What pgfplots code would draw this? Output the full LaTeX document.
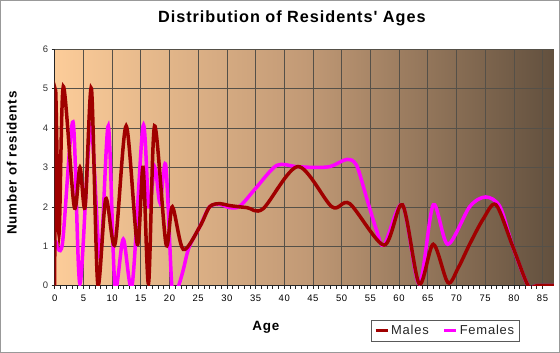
\documentclass[border=0pt]{standalone}
\usepackage{fontspec}
\setmainfont{Liberation Sans}
\newfontfamily\lsfont{Liberation Sans}[LetterSpace=6]
\usepackage{pgfplots}
\pgfplotsset{compat=1.18}
\definecolor{males}{RGB}{160,0,0}
\definecolor{females}{RGB}{255,0,255}
\definecolor{bgL}{RGB}{252,204,153}
\definecolor{bgM}{RGB}{194,154,118}
\definecolor{bgR}{RGB}{98,80,62}
\definecolor{gridc}{RGB}{85,80,72}
\pgfdeclarehorizontalshading{plotbg}{100bp}{color(0bp)=(bgL); color(25bp)=(bgL); color(50bp)=(bgM); color(75bp)=(bgR); color(100bp)=(bgR)}

\pgfplotstableread{
x y
0 0
0.15 4.95
0.75 1.3
1.5 5.05
3.4 2.0
4.4 3.0
5.3 2.0
6.4 5.0
7.5 0.05
8.9 2.2
10.5 1.05
12.45 4.05
14.4 1.05
15.4 3.0
16.35 0.05
17.4 4.05
19.4 1.05
20.5 2.0
22.4 0.92
25.3 1.5
27 2.0
28.8 2.08
30.5 2.03
33.5 1.98
36.3 1.95
42.4 3.02
48.3 2.0
51.4 2.08
57.4 1.03
60.6 2.05
63.5 0.05
65.96 1.05
68.5 0.08
70.3 0.45
72.3 1.05
74.7 1.7
76.9 2.05
79.8 1.0
82.5 0.0
84 0.0
87 0.0
}\males

\pgfplotstableread{
x y
0.15 1.15
1.33 1.05
3.19 4.15
4.4 0.05
6.27 4.05
7.9 0.7
9.34 4.05
10.5 0.0
11.95 1.18
13.5 0.02
15.4 4.05
16.4 2.0
17.45 3.0
18.35 2.1
19.35 3.05
20.4 0.0
21.0 -0.15
21.6 0.0
22.4 0.4
23.4 0.97
25.3 1.5
27 2.0
28.8 2.06
30.5 1.98
32.3 2.02
35.2 2.5
38.7 3.05
42 3.02
45 3.0
48 3.02
50.9 3.2
52.6 3.05
54.4 2.2
56.1 1.4
57.4 1.03
60.6 2.05
63.5 0.05
65.96 2.05
68.5 1.05
72.3 2.0
75.1 2.25
77.6 2.0
79.8 1.0
82.5 0.0
84 0.0
87 0.0
}\females

\begin{document}
\begin{tikzpicture}
\path[fill=white, draw=gray!80, line width=1bp] (0.5bp,0.5bp) rectangle (559.5bp,352.5bp);
\begin{axis}[
  at={(54.7bp,67.3bp)}, anchor=south west,
  scale only axis, width=499.3bp, height=236.7bp,
  xmin=0, xmax=87, ymin=0, ymax=6,
  axis x line*=bottom, axis y line*=left,
  axis background/.style={shading=plotbg},
  xtick={0,5,...,85}, ytick={0,1,...,6},
  minor x tick num=4,
  tick align=outside, major tick length=3bp, minor tick length=3bp,
  grid=major, major grid style={draw=gridc, line width=0.6bp},
  minor grid style={draw=none},
  axis line style={black!85, line width=0.8bp},
  tick style={black!85, line width=0.6bp},
  /pgf/number format/assume math mode=true,
  xticklabel style={font=\lsfont\fontsize{9.5}{11}\selectfont, yshift=-2.5bp},
  yticklabel style={font=\lsfont\fontsize{9.5}{11}\selectfont, text=black!80},
  title={Distribution of Residents' Ages},
  title style={at={(axis description cs:0.475,1.104)}, anchor=center, font=\lsfont\bfseries\fontsize{16.3}{19}\selectfont},
  xlabel={Age},
  xlabel style={at={(axis description cs:0.423,-0.177)}, anchor=center, font=\lsfont\bfseries\fontsize{13.5}{16}\selectfont},
  ylabel={Number of residents},
  ylabel style={at={(axis description cs:-0.0861,0.518)}, anchor=center, rotate=0, font=\lsfont\bfseries\fontsize{13.5}{16}\selectfont},
  legend columns=2,
  legend style={at={(axis description cs:0.782,-0.191)}, anchor=center, draw=gray!70!black, fill=none,
    font=\lsfont\fontsize{13}{15}\selectfont, text=black!85, inner xsep=3bp, inner ysep=3bp,
    /tikz/every even column/.append style={column sep=12bp}},
  legend image code/.code={\draw[#1, line width=3bp] (0bp,0bp) -- (12bp,0bp);},
]
\addlegendimage{males}
\addlegendentry{Males}
\addlegendimage{females}
\addlegendentry{Females}
\addplot[females, line width=3.5bp, smooth, forget plot] table[x=x, y=y] {\females};
\addplot[males, line width=3.5bp, smooth, forget plot] table[x=x, y=y] {\males};
\end{axis}
\end{tikzpicture}
\end{document}
